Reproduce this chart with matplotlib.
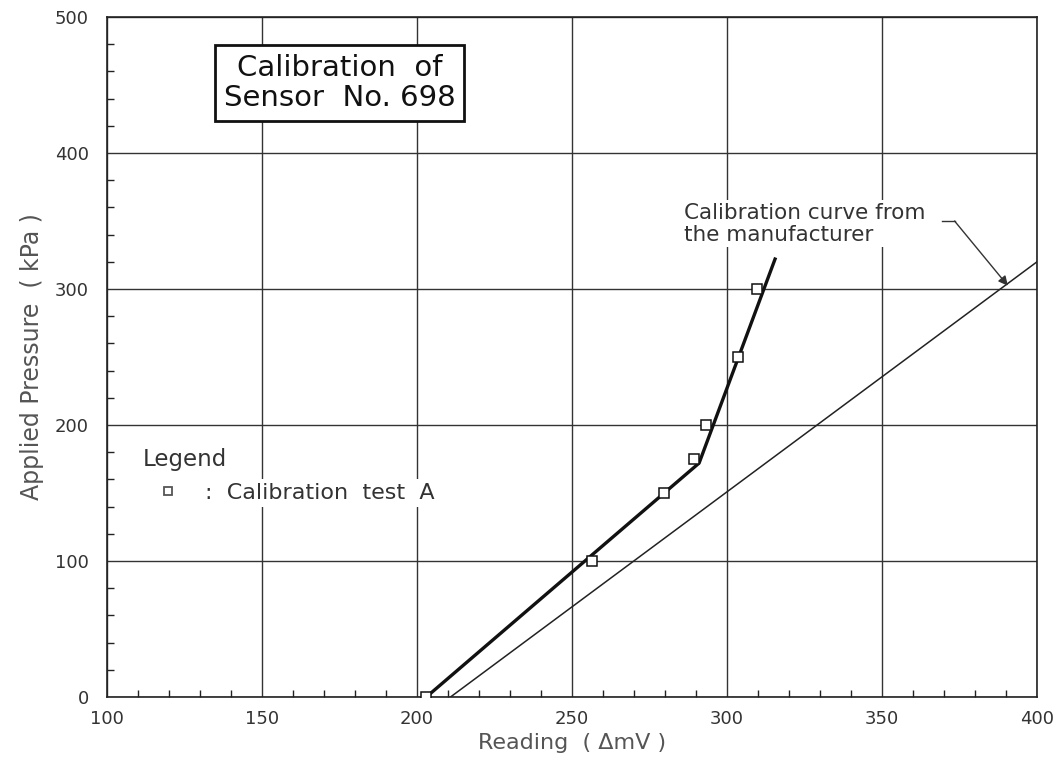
from __future__ import annotations

import matplotlib

matplotlib.use("Agg")
import matplotlib.pyplot as plt
from matplotlib.lines import Line2D
from matplotlib.ticker import MultipleLocator

plt.rcParams["font.family"] = ["DejaVu Sans"]

# calibration test A (reading in delta mV, pressure in kPa)
test_reading = [203.0, 256.3, 279.6, 289.5, 293.3, 303.5, 309.6]
test_pressure = [0, 100, 150, 175, 200, 250, 300]

# hand-drawn fit through the test points
fit_reading = [203.0, 291.0, 315.5]
fit_pressure = [0, 172, 322]

# manufacturer's calibration curve
maker_reading = [210.8, 400.0]
maker_pressure = [0, 320]

x_ticks = [100, 150, 200, 250, 300, 350, 400]
y_ticks = [0, 100, 200, 300, 400, 500]

INK = "#222222"


def main() -> None:
    fig = plt.figure(figsize=(10.61, 7.68), dpi=100)
    ax = fig.add_axes([0.1008, 0.0924, 0.8766, 0.8855])

    ax.set_xlim(100, 400)
    ax.set_ylim(0, 500)
    ax.set_xticks(x_ticks)
    ax.set_yticks(y_ticks)
    ax.xaxis.set_minor_locator(MultipleLocator(10))
    ax.yaxis.set_minor_locator(MultipleLocator(20))
    ax.tick_params(which="major", direction="in", length=0, labelsize=13,
                   colors="#333333")
    ax.tick_params(axis="x", which="major", pad=9)
    ax.tick_params(axis="y", which="major", pad=13)
    ax.tick_params(which="minor", direction="in", length=5, width=1, color=INK)
    ax.tick_params(top=False, right=False, which="both")
    ax.grid(which="major", color="#333333", linewidth=1.0)
    for sp in ax.spines.values():
        sp.set_color(INK)
        sp.set_linewidth(1.2)

    ax.plot(maker_reading, maker_pressure, color=INK, linewidth=1.1, zorder=3)
    ax.plot(fit_reading, fit_pressure, color="#111111", linewidth=2.4, zorder=4)
    ax.plot(test_reading, test_pressure, linestyle="none", marker="s",
            markersize=7.5, markerfacecolor="white", markeredgecolor="#111111",
            markeredgewidth=1.1, zorder=5)

    ax.set_xlabel("Reading  ( ΔmV )", fontsize=16, color="#555555", labelpad=4)
    ax.set_ylabel("Applied Pressure  ( kPa )", fontsize=17, color="#555555",
                  labelpad=8)

    ax.text(175, 451.4, "Calibration  of\nSensor  No. 698", fontsize=21,
            ha="center", va="center", color="#111111", linespacing=1.1,
            zorder=6,
            bbox=dict(boxstyle="square,pad=0.3", facecolor="white",
                      edgecolor="#111111", linewidth=2.0))

    ax.text(286, 348, "Calibration curve from\nthe manufacturer", fontsize=15.5,
            ha="left", va="center", color="#333333", linespacing=1.15,
            zorder=6,
            bbox=dict(boxstyle="square,pad=0.1", facecolor="white",
                      edgecolor="none"))
    ax.plot([369.5, 373.4], [350, 350], color="#333333", linewidth=1.0,
            zorder=6)
    ax.annotate("", xy=(390.6, 302.4), xytext=(373.4, 350),
                arrowprops=dict(arrowstyle="-|>", color="#333333", lw=1.0,
                                mutation_scale=14, shrinkA=0, shrinkB=0),
                zorder=6)

    ax.text(111.5, 174.6, "Legend", fontsize=16.5, ha="left", va="center",
            color="#333333", zorder=6)
    proxy = Line2D([], [], linestyle="none", marker="s", markersize=6,
                   markerfacecolor="white", markeredgecolor="#555555",
                   markeredgewidth=1.3)
    leg = ax.legend([proxy], [":  Calibration  test  A"], loc="center left",
                    bbox_to_anchor=(0.049, 0.30), borderaxespad=0,
                    frameon=True, fontsize=16, handletextpad=1.17,
                    borderpad=0.2, handlelength=1.0)
    leg.get_frame().set_edgecolor("none")
    leg.get_frame().set_facecolor("white")
    leg.get_frame().set_alpha(1.0)
    leg.get_frame().set_boxstyle("square", pad=0)
    leg.set_zorder(6)
    for t in leg.get_texts():
        t.set_color("#333333")

    fig.savefig("out.png", dpi=100)
    plt.close(fig)


if __name__ == "__main__":
    main()
